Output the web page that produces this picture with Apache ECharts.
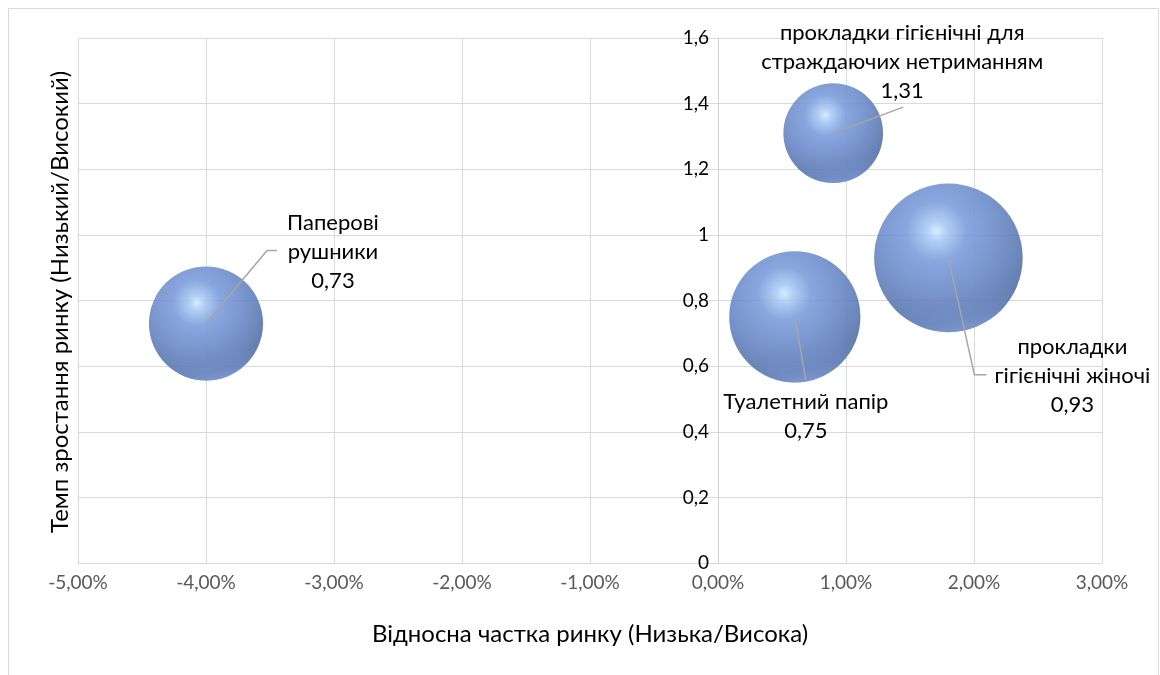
<!DOCTYPE html>
<html>
<head>
<meta charset="utf-8">
<script src="https://cdn.jsdelivr.net/npm/echarts@6/dist/echarts.min.js"></script>
<style>
  html, body { margin: 0; padding: 0; background: #ffffff; }
  #chart { width: 1160px; height: 675px; }
</style>
</head>
<body>
<div id="chart"></div>
<script>
// Product groups (bubble names)
const products = [
  'Паперові\nрушники',
  'Туалетний папір',
  'прокладки гігієнічні для\nстраждаючих нетриманням',
  'прокладки\nгігієнічні жіночі'
];
// Relative market share (X), as fractions
const marketShare = [-0.04, 0.006, 0.009, 0.018];
// Market growth rate (Y)
const growthRate = [0.73, 0.75, 1.31, 0.93];
// Relative bubble size (area)
const bubbleSize = [0.59, 0.78, 0.45, 1.0];

// Axis ranges: [min, max, step]
const xRange = [-0.05, 0.03, 0.01];
const yRange = [0, 1.6, 0.2];

// Axis titles
const xTitle = 'Відносна частка ринку (Низька/Висока)';
const yTitle = 'Темп зростання ринку (Низький/Високий)';

const FONT = 'Lato, "Open Sans", sans-serif';
const MAX_DIAMETER = 148.6;

// Plot area
const GRID = { left: 78, right: 58, top: 38, bottom: 112 };
const CHART_W = 1160;
const plotW = CHART_W - GRID.left - GRID.right;
// Vertical axis sits where x = 0
const yAxisOffset = -((0 - xRange[0]) / (xRange[1] - xRange[0])) * plotW;

// Leader-line / label placement, pixel offsets from each bubble centre
const leaderLayout = [
  { pts: [[61, -73], [71, -73]], tx: 127, ty: -72, va: 'middle' },
  { pts: [[11, 63]], tx: 11, ty: 70, va: 'top' },
  { pts: [[70, -26]], tx: 69, ty: -28, va: 'bottom' },
  { pts: [[26, 117], [38, 117]], tx: 124, ty: 118, va: 'middle' }
];

const fmtComma = (v, d) => (d == null ? String(+v.toFixed(4)) : v.toFixed(d)).replace('.', ',');

const bubbleData = marketShare.map((x, i) => [x, growthRate[i], bubbleSize[i]]);
const sizeOf = v => MAX_DIAMETER * Math.sqrt(v[2]);

const chart = echarts.init(document.getElementById('chart'), null, { renderer: 'canvas' });

chart.setOption({
  backgroundColor: '#ffffff',
  animation: false,
  graphic: [
    {
      type: 'rect',
      shape: { x: 8.5, y: 8.5, width: 1150, height: 700 },
      style: { fill: 'none', stroke: '#d9d9d9', lineWidth: 1 },
      silent: true, z: -10
    },
    {
      type: 'text',
      x: 60, y: 302,
      rotation: Math.PI / 2,
      style: {
        text: yTitle, font: '24px ' + FONT, fill: '#000000',
        align: 'center', verticalAlign: 'middle'
      },
      silent: true
    }
  ],
  grid: Object.assign({ containLabel: false }, GRID),
  xAxis: {
    type: 'value',
    min: xRange[0], max: xRange[1], interval: xRange[2],
    name: xTitle,
    nameLocation: 'middle',
    nameGap: 59,
    nameTextStyle: { fontFamily: FONT, fontSize: 24, color: '#000000' },
    axisLine: { show: true, onZero: false, lineStyle: { color: '#d9d9d9', width: 1 } },
    axisTick: { show: false },
    axisLabel: {
      color: '#595959', fontFamily: FONT, fontSize: 19, margin: 10,
      formatter: v => (v * 100).toFixed(2).replace('.', ',') + '%'
    },
    splitLine: { show: true, lineStyle: { color: '#d9d9d9', width: 1 } }
  },
  yAxis: {
    type: 'value',
    position: 'left',
    offset: yAxisOffset,
    min: yRange[0], max: yRange[1], interval: yRange[2],
    axisLine: { show: true, onZero: false, lineStyle: { color: '#d0d0d0', width: 1 } },
    axisTick: { show: false },
    axisLabel: {
      color: '#000000', fontFamily: FONT, fontSize: 19, margin: 9,
      formatter: v => fmtComma(v)
    },
    splitLine: { show: true, lineStyle: { color: '#d9d9d9', width: 1 } }
  },
  series: [
    {
      type: 'scatter',
      data: bubbleData,
      symbol: 'circle',
      symbolSize: sizeOf,
      z: 2,
      itemStyle: {
        opacity: 0.9,
        color: {
          type: 'radial', x: 0.42, y: 0.32, r: 0.8,
          colorStops: [
            { offset: 0, color: '#d2ebff' },
            { offset: 0.08, color: '#a9cbf3' },
            { offset: 0.25, color: '#7c9edb' },
            { offset: 0.5, color: '#6b8bc9' },
            { offset: 0.72, color: '#5b79b2' },
            { offset: 0.86, color: '#4f6a9e' },
            { offset: 1, color: '#4a6494' }
          ]
        }
      },
      emphasis: { disabled: true }
    },
    {
      // lighter rim along the lower edge of each sphere
      type: 'scatter',
      data: bubbleData,
      symbol: 'circle',
      symbolSize: sizeOf,
      z: 3,
      silent: true,
      itemStyle: {
        color: {
          type: 'linear', x: 0.3, y: 0, x2: 0.5, y2: 1,
          colorStops: [
            { offset: 0, color: 'rgba(120,150,215,0)' },
            { offset: 0.78, color: 'rgba(120,150,215,0)' },
            { offset: 0.92, color: 'rgba(125,155,220,0.45)' },
            { offset: 1, color: 'rgba(140,170,230,0.7)' }
          ]
        }
      },
      emphasis: { disabled: true }
    },
    {
      type: 'custom',
      data: bubbleData,
      z: 5,
      silent: true,
      renderItem: (params, api) => {
        const i = params.dataIndex;
        const c = api.coord([api.value(0), api.value(1)]);
        const L = leaderLayout[i];
        const points = [c].concat(L.pts.map(p => [c[0] + p[0], c[1] + p[1]]));
        return {
          type: 'group',
          children: [
            {
              type: 'polyline',
              shape: { points },
              style: { stroke: '#a6a6a6', lineWidth: 1.5, fill: null }
            },
            {
              type: 'text',
              x: c[0] + L.tx, y: c[1] + L.ty,
              style: {
                text: products[i] + '\n' + fmtComma(growthRate[i], 2),
                font: '22px ' + FONT,
                lineHeight: 29,
                fill: '#000000',
                align: 'center',
                verticalAlign: L.va
              }
            }
          ]
        };
      }
    }
  ]
});
</script>
</body>
</html>
